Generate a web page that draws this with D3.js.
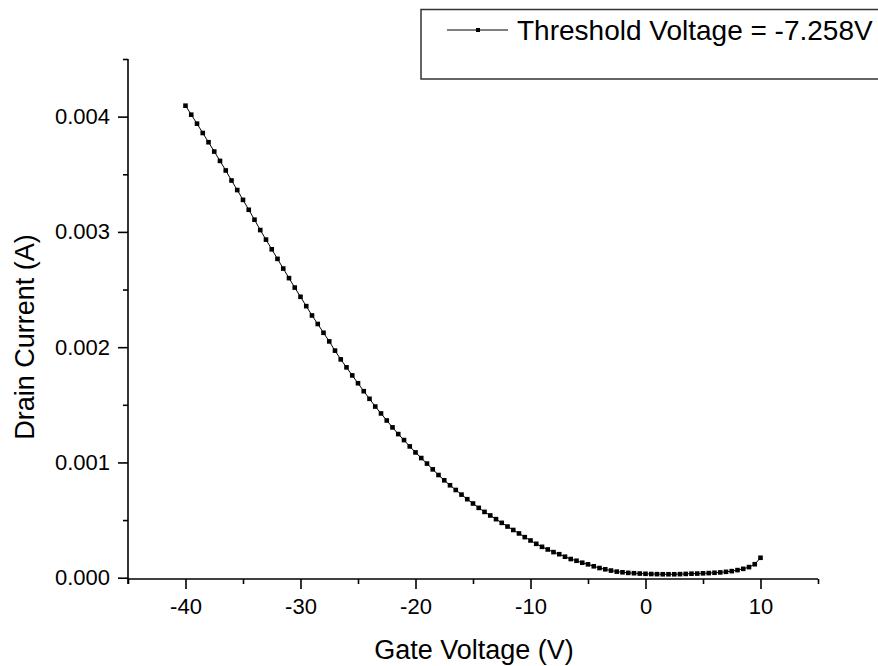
<!DOCTYPE html>
<html>
<head>
<meta charset="utf-8">
<script src="https://cdn.jsdelivr.net/npm/d3@7"></script>
<style>
  html, body { margin: 0; padding: 0; background: #fff; }
  svg { display: block; font-family: "Liberation Sans", Arial, sans-serif; }
</style>
</head>
<body>
<svg id="chart" width="878" height="666"></svg>
<script>
// ---- Data ----
const gateVoltage = [
  -40, -39.5, -39, -38.5, -38, -37.5, -37, -36.5, -36, -35.5,
  -35, -34.5, -34, -33.5, -33, -32.5, -32, -31.5, -31, -30.5,
  -30, -29.5, -29, -28.5, -28, -27.5, -27, -26.5, -26, -25.5,
  -25, -24.5, -24, -23.5, -23, -22.5, -22, -21.5, -21, -20.5,
  -20, -19.5, -19, -18.5, -18, -17.5, -17, -16.5, -16, -15.5,
  -15, -14.5, -14, -13.5, -13, -12.5, -12, -11.5, -11, -10.5,
  -10, -9.5, -9, -8.5, -8, -7.5, -7, -6.5, -6, -5.5,
  -5, -4.5, -4, -3.5, -3, -2.5, -2, -1.5, -1, -0.5,
  0, 0.5, 1, 1.5, 2, 2.5, 3, 3.5, 4, 4.5,
  5, 5.5, 6, 6.5, 7, 7.5, 8, 8.5, 9, 9.5, 10
];
const drainCurrent = [
  0.004095, 0.004017, 0.003939, 0.003858, 0.003778, 0.003697, 0.003616, 0.003533, 0.003446, 0.003363,
  0.003278, 0.003192, 0.003106, 0.003016, 0.002933, 0.002849, 0.002766, 0.002682, 0.002599, 0.002517,
  0.002437, 0.002356, 0.002275, 0.002201, 0.002125, 0.002050, 0.001970, 0.001894, 0.001825, 0.001755,
  0.001687, 0.001618, 0.001552, 0.001485, 0.001425, 0.001364, 0.001304, 0.001246, 0.001194, 0.001139,
  0.001087, 0.001038, 0.000990, 0.000940, 0.000891, 0.000845, 0.000802, 0.000761, 0.000721, 0.000681,
  0.000644, 0.000606, 0.000571, 0.000540, 0.000508, 0.000476, 0.000444, 0.000414, 0.000384, 0.000352,
  0.000323, 0.000294, 0.000268, 0.000245, 0.000222, 0.000204, 0.000182, 0.000162, 0.000147, 0.000130,
  0.000116, 0.000099, 0.000084, 0.000073, 0.000062, 0.000053, 0.000047, 0.000042, 0.000039, 0.000036,
  0.000034, 0.000032, 0.000031, 0.000030, 0.000030, 0.000030, 0.000031, 0.000033, 0.000035, 0.000036,
  0.000038, 0.000040, 0.000043, 0.000046, 0.000051, 0.000057, 0.000066, 0.000077, 0.000092, 0.000117, 0.000173
];
const xMajorTicks = [-40, -30, -20, -10, 0, 10];
const xMinorTicks = [-45, -35, -25, -15, -5, 5, 15];
const yMajorTicks = [0, 0.001, 0.002, 0.003, 0.004];
const yMinorTicks = [0.0005, 0.0015, 0.0025, 0.0035, 0.0045];
const xTitle = "Gate Voltage (V)";
const yTitle = "Drain Current (A)";
const legendLabel = "Threshold Voltage = -7.258V";

const data = gateVoltage.map((v, i) => ({ v, c: drainCurrent[i] }));

// ---- Layout ----
const svg = d3.select("#chart");
const x = d3.scaleLinear().domain([-45, 15]).range([128, 818]);
const y = d3.scaleLinear().domain([-0.0000112, 0.0045]).range([579, 59]);
const x0 = 579, yAxisX = 128;
const FONT = "'Liberation Sans', Arial, sans-serif";

// X axis
const gx = svg.append("g").attr("transform", `translate(0,${x0})`);
gx.call(d3.axisBottom(x).tickValues(xMajorTicks).tickSize(10).tickPadding(9)
  .tickFormat(d => String(d)));
gx.append("g").call(d3.axisBottom(x).tickValues(xMinorTicks).tickSize(5).tickFormat(""))
  .select(".domain").remove();
gx.selectAll(".domain").attr("stroke", "#000").attr("stroke-width", 1.6).attr("d", `M${x(-45)},0H${x(15)}`);
gx.selectAll(".tick line").attr("stroke", "#000").attr("stroke-width", 1.6);
gx.selectAll(".tick text").attr("font-size", 22).attr("fill", "#000").attr("font-family", FONT);

// Y axis
const gy = svg.append("g").attr("transform", `translate(${yAxisX},0)`);
gy.call(d3.axisLeft(y).tickValues(yMajorTicks).tickSize(10).tickPadding(8).tickFormat(d3.format(".3f")));
gy.append("g").call(d3.axisLeft(y).tickValues(yMinorTicks).tickSize(5).tickFormat(""))
  .select(".domain").remove();
gy.selectAll(".domain").attr("stroke", "#000").attr("stroke-width", 1.6).attr("d", `M0,${y(0.0045)}V${x0 + 5}`);
gy.selectAll(".tick line").attr("stroke", "#000").attr("stroke-width", 1.6);
gy.selectAll(".tick text").attr("font-size", 22).attr("fill", "#000").attr("font-family", FONT);

// Axis titles
svg.append("text").attr("x", 474).attr("y", 659).attr("text-anchor", "middle")
  .attr("font-size", 27).attr("fill", "#000").text(xTitle);
svg.append("text").attr("transform", `translate(34,337) rotate(-90)`).attr("text-anchor", "middle")
  .attr("font-size", 27).attr("fill", "#000").text(yTitle);

// Line + markers
const line = d3.line().x(d => x(d.v)).y(d => y(d.c));
svg.append("path").datum(data).attr("d", line).attr("fill", "none")
  .attr("stroke", "#000").attr("stroke-width", 1);
svg.append("g").selectAll("rect").data(data).join("rect")
  .attr("x", d => x(d.v) - 2.3).attr("y", d => y(d.c) - 2.3)
  .attr("width", 4.6).attr("height", 4.6).attr("fill", "#000");

// Legend
const lg = svg.append("g");
lg.append("rect").attr("x", 421).attr("y", 9.5).attr("width", 470).attr("height", 69.5)
  .attr("fill", "#fff").attr("stroke", "#333").attr("stroke-width", 1.5);
lg.append("line").attr("x1", 447).attr("x2", 508).attr("y1", 30).attr("y2", 30)
  .attr("stroke", "#000").attr("stroke-width", 1);
lg.append("rect").attr("x", 478 - 2).attr("y", 30 - 2).attr("width", 4).attr("height", 4).attr("fill", "#000");
lg.append("text").attr("x", 517).attr("y", 40).attr("font-size", 28).attr("fill", "#000").text(legendLabel);
</script>
</body>
</html>
